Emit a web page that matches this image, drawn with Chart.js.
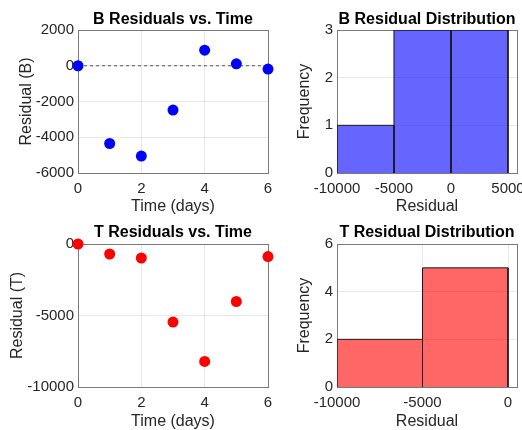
<!DOCTYPE html>
<html>
<head>
<meta charset="utf-8">
<script src="https://cdn.jsdelivr.net/npm/chart.js@4.4.1/dist/chart.umd.min.js"></script>
<style>
  html, body { margin: 0; padding: 0; background: #fff; }
  #wrap { position: relative; width: 522px; height: 430px; overflow: hidden; }
  .cell { position: absolute; }
</style>
</head>
<body>
<div id="wrap">
  <div class="cell" style="left:0;top:0;width:280px;height:215px"><canvas id="bTime"></canvas></div>
  <div class="cell" style="left:280px;top:0;width:242px;height:215px"><canvas id="bHist"></canvas></div>
  <div class="cell" style="left:0;top:215px;width:280px;height:215px"><canvas id="tTime"></canvas></div>
  <div class="cell" style="left:280px;top:215px;width:242px;height:215px"><canvas id="tHist"></canvas></div>
</div>
<script>
const days = [0, 1, 2, 3, 4, 5, 6]
const residualB = [0, -4350, -5050, -2480, 870, 110, -185]
const residualT = [0, -700, -980, -5460, -8210, -4020, -880]

const binEdgesB = [-10000, -5000, 0, 5000]
const countsB = [1, 3, 3]
const binEdgesT = [-10000, -5000, 0]
const countsT = [2, 5]

const dayTicks = [0, 2, 4, 6]
const bTicks = [-6000, -4000, -2000, 0, 2000]
const tTicks = [-10000, -5000, 0]
const histTicksB = [-10000, -5000, 0, 5000]
const histTicksT = [-10000, -5000, 0]
const freqTicksB = [0, 1, 2, 3]
const freqTicksT = [0, 2, 4, 6]

const FONT = "'Liberation Sans', Arial, sans-serif"
const TEXT = "#262626"
const GRID = "rgba(0,0,0,0.09)"

// draws the matlab style box round the plot area
const boxPlugin = {
    id: "box",
    beforeDatasetsDraw(chart) {
        const { ctx, chartArea: a } = chart
        ctx.save()
        ctx.strokeStyle = "#7a7a7a"
        ctx.lineWidth = 1
        ctx.strokeRect(Math.round(a.left) + 0.5, Math.round(a.top) + 0.5,
            Math.round(a.right - a.left), Math.round(a.bottom - a.top))
        ctx.restore()
    }
}

function axis(opts) {
    return {
        type: "linear",
        min: opts.min,
        max: opts.max,
        offset: false,
        border: { display: false },
        grid: { color: GRID, drawTicks: false },
        ticks: {
            color: TEXT,
            padding: opts.tickPad,
            autoSkip: false,
            maxRotation: 0,
            font: { family: FONT, size: 15 },
            callback: v => String(v),
        },
        afterBuildTicks: s => { s.ticks = opts.ticks.map(v => ({ value: v })) },
        title: {
            display: true,
            text: opts.title,
            color: TEXT,
            font: { family: FONT, size: 16, lineHeight: 1 },
            padding: opts.titlePad,
        },
        afterFit: opts.fit,
    }
}

function makeOptions(cfg) {
    return {
        responsive: false,
        animation: false,
        maintainAspectRatio: false,
        layout: { padding: { left: 0, right: cfg.padRight, top: 0, bottom: 0 } },
        plugins: {
            legend: { display: false },
            tooltip: { enabled: false },
            title: {
                display: true,
                text: cfg.title,
                color: "#000",
                fullSize: false,
                font: { family: FONT, size: 16, weight: "bold", lineHeight: 1 },
                padding: cfg.titlePad,
            },
        },
        scales: {
            x: axis({
                min: cfg.xmin, max: cfg.xmax, ticks: cfg.xticks, title: cfg.xtitle,
                tickPad: 7, titlePad: { top: 0, bottom: 0 },
                fit: s => { s.height = cfg.xHeight; s.paddingLeft = 0; s.paddingRight = 0 },
            }),
            y: axis({
                min: cfg.ymin, max: cfg.ymax, ticks: cfg.yticks, title: cfg.ytitle,
                tickPad: 4, titlePad: { top: cfg.yTitlePad, bottom: 0 },
                fit: s => { s.width = cfg.yWidth; s.paddingTop = 0; s.paddingBottom = 0 },
            }),
        },
    }
}

function scatterChart(id, values, color, cfg, zeroLine) {
    const el = document.getElementById(id)
    el.width = cfg.w
    el.height = 215
    const datasets = [{
        type: "scatter",
        data: days.map((d, i) => ({ x: d, y: values[i] })),
        backgroundColor: color,
        borderWidth: 0,
        pointRadius: 5.5,
        clip: false,
    }]
    if (zeroLine) {
        datasets.push({
            type: "line",
            data: [{ x: days[0], y: 0 }, { x: days[days.length - 1], y: 0 }],
            borderColor: "#555",
            borderWidth: 1,
            borderDash: [3, 3],
            pointRadius: 0,
        })
    }
    return new Chart(el, {
        type: "scatter",
        data: { datasets: datasets },
        options: makeOptions(cfg),
        plugins: [boxPlugin],
    })
}

// one filled outline per bin, so each bar keeps its own edges
function histChart(id, edges, counts, color, cfg) {
    const el = document.getElementById(id)
    el.width = cfg.w
    el.height = 215
    const datasets = counts.map((c, i) => ({
        type: "line",
        data: [
            { x: edges[i], y: 0 }, { x: edges[i], y: c },
            { x: edges[i + 1], y: c }, { x: edges[i + 1], y: 0 },
        ],
        backgroundColor: color,
        borderColor: "#1a1a1a",
        borderWidth: 1,
        fill: "origin",
        pointRadius: 0,
        tension: 0,
    }))
    return new Chart(el, {
        type: "scatter",
        data: { datasets: datasets },
        options: makeOptions(cfg),
        plugins: [boxPlugin],
    })
}

scatterChart("bTime", residualB, "#0000ff", {
    w: 280, padRight: 12, title: "B Residuals vs. Time", titlePad: { top: 12, bottom: 2 },
    xmin: 0, xmax: 6, xticks: dayTicks, xtitle: "Time (days)", xHeight: 42,
    ymin: -6000, ymax: 2000, yticks: bTicks, ytitle: "Residual (B)", yWidth: 78, yTitlePad: 19,
}, true)

histChart("bHist", binEdgesB, countsB, "rgba(0,0,255,0.6)", {
    w: 242, padRight: 5, title: "B Residual Distribution", titlePad: { top: 12, bottom: 2 },
    xmin: -10000, xmax: 5790, xticks: histTicksB, xtitle: "Residual", xHeight: 42,
    ymin: 0, ymax: 3, yticks: freqTicksB, ytitle: "Frequency", yWidth: 57, yTitlePad: 17,
})

scatterChart("tTime", residualT, "#ff0000", {
    w: 280, padRight: 12, title: "T Residuals vs. Time", titlePad: { top: 10, bottom: 3 },
    xmin: 0, xmax: 6, xticks: dayTicks, xtitle: "Time (days)", xHeight: 43,
    ymin: -10000, ymax: 0, yticks: tTicks, ytitle: "Residual (T)", yWidth: 78, yTitlePad: 10,
}, false)

histChart("tHist", binEdgesT, countsT, "rgba(255,0,0,0.6)", {
    w: 242, padRight: 5, title: "T Residual Distribution", titlePad: { top: 10, bottom: 3 },
    xmin: -10000, xmax: 526, xticks: histTicksT, xtitle: "Residual", xHeight: 43,
    ymin: 0, ymax: 6, yticks: freqTicksT, ytitle: "Frequency", yWidth: 57, yTitlePad: 17,
})
</script>
</body>
</html>
